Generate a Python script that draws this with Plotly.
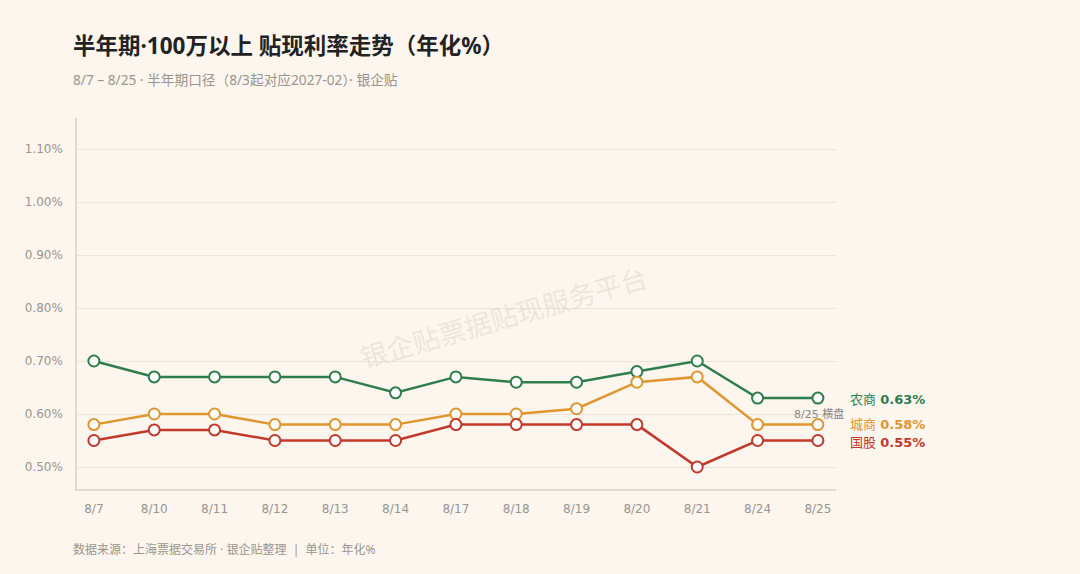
import plotly.graph_objects as go

dates = ["8/7", "8/10", "8/11", "8/12", "8/13", "8/14", "8/17", "8/18", "8/19", "8/20", "8/21", "8/24", "8/25"]
nongshang = [0.70, 0.67, 0.67, 0.67, 0.67, 0.64, 0.67, 0.66, 0.66, 0.68, 0.70, 0.63, 0.63]
chengshang = [0.58, 0.60, 0.60, 0.58, 0.58, 0.58, 0.60, 0.60, 0.61, 0.66, 0.67, 0.58, 0.58]
guogu = [0.55, 0.57, 0.57, 0.55, 0.55, 0.55, 0.58, 0.58, 0.58, 0.58, 0.50, 0.55, 0.55]
y_ticks = [0.50, 0.60, 0.70, 0.80, 0.90, 1.00, 1.10]
y_tick_labels = ["0.50%", "0.60%", "0.70%", "0.80%", "0.90%", "1.00%", "1.10%"]

series = [
    ("农商", nongshang, "#2f7d4d"),
    ("城商", chengshang, "#e0952f"),
    ("国股", guogu, "#c0392b"),
]

BG = "#fcf6ef"
CJK = "Noto Sans CJK SC"
MIX = "Noto Sans, Noto Sans CJK SC"
LAT = "DejaVu Sans, Noto Sans CJK SC"

W, H = 1080, 574
ML, MR, MT, MB = 77, 244, 118, 85
PW = W - ML - MR
PH = H - MT - MB


def px(x):
    return (x - ML) / PW


def py(y):
    return (H - MB - y) / PH


fig = go.Figure()
for name, vals, color in series:
    fig.add_trace(go.Scatter(
        x=list(range(len(dates))), y=vals, mode="lines+markers", name=name,
        line=dict(color=color, width=2.5),
        marker=dict(size=11, color="white", line=dict(color=color, width=2)),
        showlegend=False, cliponaxis=False, hoverinfo="skip",
    ))

# end labels
shifts = {"农商": 0, "城商": 1, "国股": -1}
for name, vals, color in series:
    fig.add_annotation(
        x=len(dates) - 1, y=vals[-1], xref="x", yref="y",
        text=f"<span style='font-family:{CJK}'>{name}</span> <b>{vals[-1]:.2f}%</b>",
        showarrow=False, xanchor="left", xshift=30, yshift=shifts[name],
        font=dict(family="DejaVu Sans", size=13, color=color),
    )

fig.add_annotation(
    x=len(dates) - 1, y=nongshang[-1], xref="x", yref="y",
    text="8/25 横盘", showarrow=False, xanchor="center", xshift=1, yshift=-16,
    font=dict(family=LAT, size=11, color="#8a8580"),
)

# watermark
fig.add_annotation(
    x=px(503), y=py(316), xref="paper", yref="paper", text="银企贴票据贴现服务平台",
    showarrow=False, textangle=-16,
    font=dict(family=CJK, size=27, color="rgba(200,188,176,0.30)"),
)

# title, subtitle, footer
fig.add_annotation(
    x=px(71), y=py(46), xref="paper", yref="paper", xanchor="left", yanchor="middle",
    text="<b>半年期·100万以上 贴现利率走势（年化%）</b>", showarrow=False,
    font=dict(family=MIX, size=22.5, color="#222222"),
)
fig.add_annotation(
    x=px(71), y=py(79), xref="paper", yref="paper", xanchor="left", yanchor="middle",
    text="8/7 – 8/25 · 半年期口径（8/3起对应2027-02）· 银企贴", showarrow=False,
    font=dict(family=MIX, size=13.7, color="#9a948e"),
)
fig.add_annotation(
    x=px(71), y=py(549), xref="paper", yref="paper", xanchor="left", yanchor="middle",
    text="数据来源：上海票据交易所 · 银企贴整理  |  单位：年化%", showarrow=False,
    font=dict(family=MIX, size=12, color="#9a948e"),
)

fig.update_layout(
    width=W, height=H,
    paper_bgcolor=BG, plot_bgcolor=BG,
    margin=dict(l=ML, r=MR, t=MT, b=MB),
    font=dict(family=CJK),
    xaxis=dict(
        range=[-0.28, 12.3], tickmode="array", tickvals=list(range(len(dates))), ticktext=dates,
        showgrid=False, zeroline=False, showline=True, linecolor="#e2dbd2", linewidth=1.5,
        ticks="", ticklabelstandoff=8, tickfont=dict(family=LAT, size=12, color="#999490"),
        fixedrange=True,
    ),
    yaxis=dict(
        range=[0.4585, 1.1585], tickmode="array", tickvals=y_ticks, ticktext=y_tick_labels,
        showgrid=True, gridcolor="#ebe4da", gridwidth=1, zeroline=False,
        showline=True, linecolor="#e2dbd2", linewidth=1.5,
        ticks="", ticklabelstandoff=10, tickfont=dict(family=LAT, size=12, color="#999490"),
        fixedrange=True,
    ),
)

fig.write_html("out.html", config={"displayModeBar": False})

with open("out.html", "r", encoding="utf-8") as f:
    html = f.read()
html = html.replace("<head>", "<head><style>html,body{margin:0;padding:0;overflow:hidden;background:%s;}</style>" % BG, 1)
with open("out.html", "w", encoding="utf-8") as f:
    f.write(html)
